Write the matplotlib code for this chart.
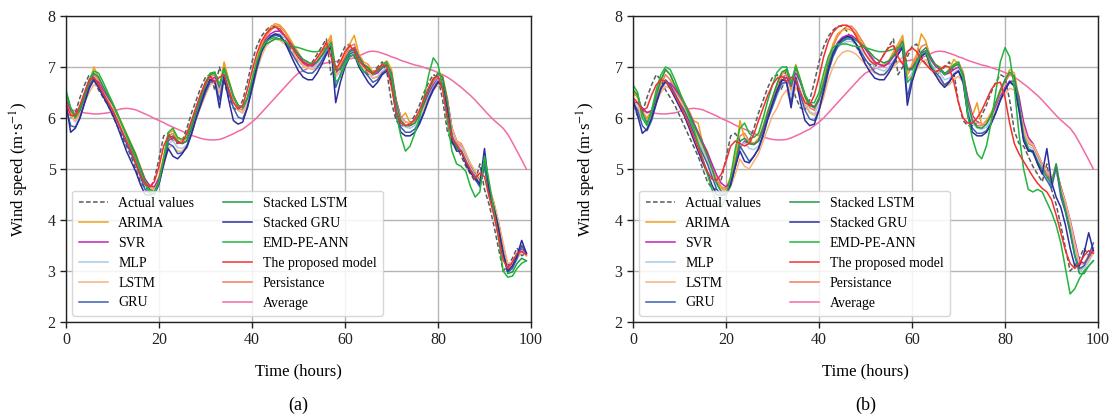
import matplotlib
matplotlib.use("Agg")
import matplotlib.pyplot as plt
import numpy as np

plt.rcParams['font.family'] = ['Liberation Serif', 'DejaVu Serif']
plt.rcParams['mathtext.fontset'] = 'stix'

hours = list(range(100))
x_ticks = [0, 20, 40, 60, 80, 100]
y_ticks = [2, 3, 4, 5, 6, 7, 8]

labels = ["Actual values", "ARIMA", "SVR", "MLP", "LSTM", "GRU",
          "Stacked LSTM", "Stacked GRU", "EMD-PE-ANN", "The proposed model",
          "Persistance", "Average"]
colors = ["#5a5a5a", "#f0a020", "#c024b4", "#a9c9e6", "#f9b27a", "#3a5fb2",
          "#1e9a4c", "#2c2c9c", "#22b43c", "#f23030", "#f47a58", "#f26aa6"]

actual = [
    6.4, 6.0, 6.1, 6.4, 6.65, 6.85, 6.75, 6.55, 6.4, 6.25,
    6.05, 5.85, 5.65, 5.45, 5.25, 5.0, 4.75, 4.62, 4.6, 4.8,
    5.2, 5.65, 5.7, 5.55, 5.5, 5.55, 5.8, 6.1, 6.35, 6.6,
    6.8, 6.85, 6.55, 7.0, 6.7, 6.4, 6.2, 6.15, 6.35, 6.7,
    7.1, 7.4, 7.6, 7.72, 7.8, 7.8, 7.7, 7.55, 7.4, 7.25,
    7.1, 7.05, 7.0, 7.1, 7.25, 7.4, 7.55, 6.85, 7.0, 7.2,
    7.4, 7.45, 7.2, 7.05, 7.0, 6.85, 6.9, 7.0, 7.1, 6.9,
    6.3, 5.95, 5.85, 5.85, 5.9, 6.05, 6.25, 6.5, 6.7, 6.85,
    6.8, 6.35, 5.75, 5.5, 5.45, 5.25, 5.05, 4.9, 4.75, 5.1,
    4.6, 4.3, 3.9, 3.45, 3.0, 3.1, 3.25, 3.45, 3.3, 3.35]

average = [
    6.19, 6.17, 6.14, 6.12, 6.1, 6.09, 6.08, 6.08, 6.09, 6.1,
    6.13, 6.16, 6.18, 6.19, 6.18, 6.16, 6.12, 6.08, 6.04, 5.99,
    5.95, 5.91, 5.86, 5.82, 5.78, 5.74, 5.7, 5.66, 5.63, 5.6,
    5.58, 5.57, 5.57, 5.58, 5.61, 5.65, 5.69, 5.74, 5.78, 5.85,
    5.92, 6.0, 6.1, 6.2, 6.3, 6.4, 6.5, 6.6, 6.7, 6.8,
    6.88, 6.93, 6.97, 7.0, 7.03, 7.06, 7.08, 7.1, 7.11, 7.12,
    7.14, 7.16, 7.18, 7.22, 7.26, 7.3, 7.31, 7.3, 7.27, 7.24,
    7.2, 7.17, 7.13, 7.1, 7.07, 7.04, 7.02, 6.99, 6.96, 6.93,
    6.89, 6.85, 6.8, 6.74, 6.67, 6.6, 6.52, 6.44, 6.35, 6.25,
    6.15, 6.05, 5.96, 5.88, 5.8, 5.68, 5.52, 5.35, 5.18, 5.0]

# ---------------- panel (a) ----------------
arima_a = [
    6.4, 6.1, 6.0, 6.15, 6.45, 6.7, 7.0, 6.8, 6.6, 6.45,
    6.3, 6.1, 5.9, 5.7, 5.5, 5.3, 5.05, 4.8, 4.65, 4.62,
    4.85, 5.25, 5.7, 5.75, 5.6, 5.55, 5.6, 5.85, 6.15, 6.4,
    6.65, 6.85, 6.9, 6.6, 7.1, 6.75, 6.45, 6.25, 6.2, 6.4,
    6.75, 7.15, 7.45, 7.65, 7.78, 7.85, 7.82, 7.72, 7.58, 7.42,
    7.28, 7.12, 7.08, 7.05, 7.12, 7.3, 7.45, 7.62, 6.9, 7.05,
    7.25, 7.45, 7.62, 7.25, 7.1, 7.05, 6.9, 6.95, 7.05, 7.12,
    6.95, 6.35, 6.0, 6.1, 5.9, 5.95, 6.1, 6.3, 6.55, 6.75,
    6.88, 6.82, 6.4, 5.8, 5.55, 5.5, 5.3, 5.1, 4.95, 4.8,
    5.15, 4.65, 4.35, 3.95, 3.5, 3.05, 3.15, 3.3, 3.5, 3.35]
svr_a = [
    6.35, 6.15, 6.05, 6.15, 6.4, 6.62, 6.78, 6.7, 6.55, 6.4,
    6.25, 6.05, 5.85, 5.65, 5.45, 5.25, 5.02, 4.8, 4.68, 4.65,
    4.82, 5.15, 5.55, 5.62, 5.52, 5.5, 5.55, 5.78, 6.05, 6.3,
    6.55, 6.75, 6.8, 6.6, 6.9, 6.7, 6.42, 6.25, 6.2, 6.38,
    6.7, 7.05, 7.35, 7.55, 7.65, 7.7, 7.7, 7.62, 7.5, 7.38,
    7.22, 7.1, 7.05, 7.02, 7.1, 7.22, 7.35, 7.45, 6.9, 6.98,
    7.15, 7.32, 7.38, 7.2, 7.05, 6.98, 6.85, 6.88, 6.98, 7.05,
    6.88, 6.35, 6.02, 5.92, 5.9, 5.93, 6.05, 6.25, 6.48, 6.65,
    6.78, 6.75, 6.35, 5.8, 5.55, 5.48, 5.28, 5.08, 4.92, 4.8,
    5.05, 4.62, 4.32, 3.95, 3.5, 3.1, 3.15, 3.28, 3.42, 3.35]
mlp_a = [
    6.3, 6.05, 5.92, 6.05, 6.32, 6.58, 6.75, 6.65, 6.5, 6.35,
    6.2, 6.0, 5.8, 5.6, 5.4, 5.2, 4.95, 4.7, 4.58, 4.55,
    4.72, 5.1, 5.5, 5.55, 5.42, 5.4, 5.48, 5.72, 6.02, 6.28,
    6.52, 6.72, 6.75, 6.5, 6.88, 6.6, 6.32, 6.15, 6.1, 6.3,
    6.62, 7.0, 7.3, 7.5, 7.6, 7.65, 7.65, 7.58, 7.45, 7.32,
    7.18, 7.05, 7.0, 6.98, 7.05, 7.18, 7.3, 7.42, 6.8, 6.92,
    7.1, 7.28, 7.32, 7.12, 7.0, 6.92, 6.78, 6.82, 6.92, 7.0,
    6.82, 6.25, 5.92, 5.82, 5.8, 5.85, 5.98, 6.18, 6.42, 6.6,
    6.75, 6.72, 6.3, 5.72, 5.48, 5.42, 5.22, 5.02, 4.88, 4.72,
    5.02, 4.55, 4.25, 3.88, 3.42, 3.02, 3.1, 3.22, 3.4, 3.3]
lstm_a = [
    6.25, 6.05, 5.95, 6.05, 6.3, 6.5, 6.65, 6.6, 6.48, 6.35,
    6.22, 6.02, 5.82, 5.62, 5.42, 5.22, 4.98, 4.75, 4.62, 4.6,
    4.72, 5.05, 5.42, 5.45, 5.35, 5.35, 5.45, 5.68, 5.98, 6.22,
    6.45, 6.65, 6.7, 6.5, 6.8, 6.58, 6.32, 6.15, 6.1, 6.25,
    6.55, 6.9, 7.2, 7.4, 7.5, 7.55, 7.52, 7.45, 7.35, 7.25,
    7.12, 7.02, 6.98, 6.95, 7.0, 7.12, 7.25, 7.35, 6.85, 6.9,
    7.05, 7.2, 7.25, 7.08, 6.98, 6.9, 6.78, 6.8, 6.88, 6.95,
    6.78, 6.3, 6.0, 5.92, 5.9, 5.92, 6.02, 6.2, 6.4, 6.55,
    6.65, 6.62, 6.3, 5.8, 5.55, 5.48, 5.3, 5.1, 4.95, 4.82,
    5.0, 4.62, 4.35, 3.98, 3.55, 3.15, 3.15, 3.25, 3.38, 3.3]
gru_a = [
    6.2, 5.85, 5.82, 6.0, 6.3, 6.6, 6.78, 6.65, 6.48, 6.3,
    6.15, 5.95, 5.72, 5.5, 5.3, 5.1, 4.85, 4.6, 4.52, 4.5,
    4.7, 5.1, 5.5, 5.45, 5.3, 5.32, 5.42, 5.68, 6.0, 6.25,
    6.5, 6.7, 6.72, 6.35, 6.85, 6.5, 6.2, 6.02, 5.98, 6.2,
    6.55, 6.95, 7.28, 7.48, 7.58, 7.62, 7.6, 7.5, 7.35, 7.2,
    7.05, 6.92, 6.88, 6.88, 6.98, 7.12, 7.28, 7.4, 6.6, 6.85,
    7.05, 7.25, 7.3, 7.05, 6.92, 6.82, 6.7, 6.75, 6.88, 6.95,
    6.75, 6.15, 5.82, 5.72, 5.72, 5.78, 5.92, 6.12, 6.38, 6.58,
    6.72, 6.68, 6.25, 5.65, 5.4, 5.35, 5.15, 4.95, 4.8, 4.65,
    5.05, 4.5, 4.2, 3.82, 3.35, 2.98, 3.05, 3.25, 3.5, 3.35]
slstm_a = [
    6.5, 6.2, 6.05, 6.15, 6.42, 6.7, 6.88, 6.8, 6.62, 6.45,
    6.28, 6.08, 5.88, 5.68, 5.48, 5.28, 5.02, 4.76, 4.6, 4.55,
    4.75, 5.15, 5.6, 5.65, 5.55, 5.5, 5.55, 5.82, 6.12, 6.38,
    6.65, 6.85, 6.88, 6.62, 6.98, 6.72, 6.42, 6.25, 6.2, 6.38,
    6.68, 7.05, 7.3, 7.45, 7.5, 7.55, 7.55, 7.5, 7.42, 7.35,
    7.25, 7.15, 7.1, 7.05, 7.1, 7.22, 7.35, 7.48, 6.95, 6.95,
    7.12, 7.3, 7.35, 7.18, 7.05, 6.98, 6.88, 6.92, 7.0, 7.05,
    6.85, 6.3, 5.95, 5.85, 5.85, 5.9, 6.05, 6.3, 6.55, 6.75,
    6.88, 6.8, 6.3, 5.65, 5.4, 5.35, 5.15, 4.98, 4.85, 4.7,
    5.15, 4.55, 4.25, 3.85, 3.35, 2.95, 2.98, 3.15, 3.25, 3.2]
sgru_a = [
    6.3, 5.72, 5.8, 6.0, 6.3, 6.58, 6.75, 6.6, 6.42, 6.25,
    6.08, 5.85, 5.6, 5.35, 5.15, 4.95, 4.7, 4.5, 4.48, 4.52,
    4.72, 5.1, 5.4, 5.25, 5.2, 5.3, 5.45, 5.7, 6.0, 6.28,
    6.55, 6.75, 6.72, 6.2, 6.8, 6.35, 5.95, 5.88, 5.92, 6.2,
    6.6, 7.0, 7.3, 7.5, 7.6, 7.65, 7.62, 7.5, 7.3, 7.1,
    6.92, 6.8, 6.75, 6.75, 6.88, 7.05, 7.25, 7.4, 6.3, 6.7,
    7.0, 7.2, 7.25, 7.0, 6.85, 6.7, 6.6, 6.7, 6.85, 6.92,
    6.7, 6.05, 5.72, 5.65, 5.65, 5.72, 5.88, 6.1, 6.35, 6.55,
    6.7, 6.62, 6.15, 5.55, 5.35, 5.35, 5.1, 4.92, 4.82, 4.7,
    5.4, 4.6, 4.25, 3.85, 3.35, 3.0, 3.1, 3.3, 3.6, 3.35]
emd_a = [
    6.55, 6.2, 6.0, 6.2, 6.5, 6.75, 6.92, 6.88, 6.7, 6.5,
    6.3, 6.1, 5.88, 5.65, 5.42, 5.2, 4.95, 4.7, 4.55, 4.5,
    4.75, 5.2, 5.72, 5.8, 5.62, 5.58, 5.62, 5.9, 6.2, 6.45,
    6.7, 6.88, 6.9, 6.65, 6.95, 6.7, 6.42, 6.25, 6.2, 6.4,
    6.75, 7.1, 7.35, 7.5, 7.55, 7.58, 7.55, 7.5, 7.45, 7.4,
    7.38, 7.35, 7.32, 7.3, 7.3, 7.32, 7.38, 7.45, 6.7, 6.8,
    7.05, 7.2, 7.25, 7.05, 6.9, 6.95, 6.85, 6.95, 7.05, 7.1,
    6.8, 6.1, 5.65, 5.35, 5.45, 5.7, 6.0, 6.4, 6.85, 7.18,
    7.05, 6.6, 5.95, 5.35, 5.1, 5.05, 4.95, 4.65, 4.45, 4.55,
    5.25, 4.75, 4.2, 3.65, 3.0, 2.88, 2.9, 3.05, 3.15, 3.2]
proposed_a = [
    6.3, 6.05, 6.05, 6.25, 6.5, 6.75, 6.8, 6.65, 6.48, 6.32,
    6.15, 5.95, 5.75, 5.55, 5.35, 5.12, 4.88, 4.7, 4.65, 4.75,
    5.05, 5.45, 5.65, 5.62, 5.52, 5.52, 5.7, 5.95, 6.22, 6.48,
    6.7, 6.82, 6.7, 6.8, 6.85, 6.55, 6.3, 6.18, 6.25, 6.55,
    6.92, 7.25, 7.5, 7.65, 7.75, 7.78, 7.75, 7.62, 7.48, 7.32,
    7.18, 7.08, 7.02, 7.05, 7.18, 7.32, 7.48, 7.2, 6.95, 7.1,
    7.3, 7.42, 7.32, 7.12, 7.02, 6.92, 6.88, 6.95, 7.05, 7.0,
    6.6, 6.12, 5.9, 5.85, 5.88, 5.98, 6.15, 6.38, 6.6, 6.78,
    6.82, 6.55, 6.05, 5.62, 5.48, 5.35, 5.15, 4.98, 4.82, 4.92,
    4.85, 4.45, 4.1, 3.68, 3.22, 3.05, 3.18, 3.35, 3.38, 3.32]
persist_a = [
    6.45, 6.15, 5.98, 6.1, 6.4, 6.65, 6.85, 6.75, 6.55, 6.4,
    6.25, 6.05, 5.85, 5.65, 5.45, 5.25, 5.0, 4.75, 4.62, 4.6,
    4.8, 5.2, 5.65, 5.7, 5.55, 5.5, 5.55, 5.8, 6.1, 6.35,
    6.6, 6.8, 6.85, 6.55, 7.0, 6.7, 6.4, 6.2, 6.15, 6.35,
    6.7, 7.1, 7.4, 7.6, 7.72, 7.8, 7.8, 7.7, 7.55, 7.4,
    7.25, 7.1, 7.05, 7.0, 7.1, 7.25, 7.4, 7.55, 6.85, 7.0,
    7.2, 7.4, 7.45, 7.2, 7.05, 7.0, 6.85, 6.9, 7.0, 7.1,
    6.9, 6.3, 5.95, 5.85, 5.85, 5.9, 6.05, 6.25, 6.5, 6.7,
    6.85, 6.8, 6.35, 5.75, 5.5, 5.45, 5.25, 5.05, 4.9, 4.75,
    5.1, 4.6, 4.3, 3.9, 3.45, 3.0, 3.1, 3.25, 3.45, 3.3]

# ---------------- panel (b) ----------------
arima_b = [
    6.5, 6.4, 6.1, 6.0, 6.15, 6.45, 6.7, 6.95, 6.85, 6.6,
    6.45, 6.3, 6.15, 5.95, 5.9, 5.5, 5.35, 5.05, 4.8, 4.65,
    4.62, 4.85, 5.25, 5.95, 5.6, 5.55, 5.5, 5.6, 5.85, 6.15,
    6.4, 6.65, 6.85, 6.95, 6.55, 7.05, 6.75, 6.45, 6.25, 6.2,
    6.4, 6.75, 7.15, 7.45, 7.65, 7.72, 7.75, 7.72, 7.65, 7.5,
    7.35, 7.2, 7.08, 7.05, 7.05, 7.12, 7.3, 7.45, 7.62, 6.85,
    7.05, 7.25, 7.65, 7.5, 7.15, 7.05, 7.0, 6.85, 6.95, 7.15,
    7.05, 6.9, 6.35, 6.05, 6.3, 5.85, 5.95, 6.1, 6.3, 6.55,
    6.75, 6.95, 6.88, 6.4, 5.8, 5.55, 5.5, 5.3, 5.1, 4.95,
    4.8, 5.0, 4.65, 4.35, 3.95, 3.5, 3.15, 3.15, 3.3, 3.45]
svr_b = [
    6.3, 6.3, 6.2, 6.1, 6.15, 6.35, 6.55, 6.7, 6.68, 6.58,
    6.45, 6.3, 6.12, 5.92, 5.72, 5.52, 5.32, 5.1, 4.88, 4.72,
    4.65, 4.75, 5.05, 5.42, 5.55, 5.5, 5.48, 5.55, 5.75, 6.02,
    6.28, 6.52, 6.72, 6.8, 6.62, 6.88, 6.7, 6.45, 6.28, 6.22,
    6.35, 6.65, 7.0, 7.28, 7.48, 7.58, 7.62, 7.62, 7.55, 7.45,
    7.35, 7.22, 7.1, 7.05, 7.02, 7.08, 7.2, 7.32, 7.42, 6.95,
    6.98, 7.12, 7.28, 7.32, 7.15, 7.02, 6.95, 6.85, 6.88, 6.95,
    7.0, 6.85, 6.4, 6.05, 5.92, 5.88, 5.9, 6.02, 6.2, 6.42,
    6.6, 6.72, 6.72, 6.42, 5.92, 5.62, 5.5, 5.3, 5.1, 4.95,
    4.82, 4.95, 4.65, 4.35, 4.0, 3.6, 3.2, 3.15, 3.25, 3.4]
mlp_b = [
    6.3, 6.25, 6.0, 5.9, 6.0, 6.3, 6.55, 6.72, 6.62, 6.48,
    6.32, 6.18, 5.98, 5.78, 5.58, 5.38, 5.18, 4.95, 4.7, 4.58,
    4.55, 4.7, 5.05, 5.45, 5.52, 5.4, 5.38, 5.45, 5.68, 5.98,
    6.22, 6.45, 6.65, 6.7, 6.45, 6.82, 6.55, 6.28, 6.12, 6.08,
    6.25, 6.55, 6.92, 7.2, 7.38, 7.45, 7.5, 7.5, 7.45, 7.35,
    7.25, 7.12, 7.0, 6.95, 6.92, 7.0, 7.12, 7.25, 7.38, 6.75,
    6.88, 7.05, 7.22, 7.28, 7.08, 6.95, 6.88, 6.75, 6.78, 6.88,
    6.95, 6.78, 6.22, 5.9, 5.8, 5.78, 5.82, 5.95, 6.15, 6.38,
    6.55, 6.7, 6.68, 6.28, 5.7, 5.45, 5.4, 5.2, 5.0, 4.85,
    4.7, 5.0, 4.52, 4.22, 3.85, 3.4, 3.0, 3.05, 3.18, 3.35]
lstm_b = [
    6.25, 6.2, 6.0, 5.95, 6.05, 6.3, 6.5, 6.62, 6.58, 6.45,
    6.32, 6.2, 6.0, 5.82, 5.62, 5.42, 5.22, 4.98, 4.72, 4.6,
    4.55, 4.65, 4.9, 5.2, 5.05, 5.0, 5.15, 5.3, 5.55, 5.8,
    6.05, 6.2, 6.42, 6.55, 6.3, 6.6, 6.45, 6.25, 6.1, 6.05,
    6.15, 6.4, 6.75, 7.0, 7.18, 7.28, 7.32, 7.3, 7.25, 7.15,
    7.05, 6.95, 6.88, 6.85, 6.85, 6.9, 7.0, 7.1, 7.2, 6.8,
    6.8, 6.95, 7.1, 7.15, 6.95, 6.85, 6.75, 6.62, 6.65, 6.75,
    6.82, 6.7, 6.3, 6.0, 5.9, 5.88, 5.9, 6.0, 6.15, 6.35,
    6.48, 6.58, 6.55, 6.25, 5.8, 5.55, 5.48, 5.3, 5.1, 4.95,
    4.82, 4.95, 4.62, 4.35, 3.98, 3.55, 3.15, 3.12, 3.22, 3.35]
gru_b = [
    6.3, 6.15, 5.85, 5.75, 5.95, 6.28, 6.58, 6.75, 6.65, 6.48,
    6.3, 6.15, 5.95, 5.72, 5.5, 5.3, 5.1, 4.85, 4.6, 4.5,
    4.48, 4.68, 5.05, 5.45, 5.3, 5.15, 5.25, 5.4, 5.65, 5.98,
    6.22, 6.48, 6.68, 6.7, 6.3, 6.8, 6.45, 6.15, 5.98, 5.95,
    6.15, 6.5, 6.9, 7.2, 7.4, 7.5, 7.55, 7.55, 7.45, 7.3,
    7.15, 7.02, 6.9, 6.85, 6.85, 6.95, 7.1, 7.25, 7.38, 6.4,
    6.8, 7.0, 7.2, 7.28, 7.0, 6.9, 6.8, 6.65, 6.72, 6.85,
    6.92, 6.72, 6.1, 5.8, 5.7, 5.7, 5.75, 5.9, 6.1, 6.35,
    6.55, 6.7, 6.65, 6.22, 5.6, 5.38, 5.32, 5.12, 4.92, 4.78,
    4.62, 5.05, 4.45, 4.15, 3.75, 3.3, 3.05, 3.1, 3.3, 3.55]
slstm_b = [
    6.55, 6.45, 6.1, 5.9, 6.1, 6.45, 6.75, 6.95, 6.85, 6.65,
    6.48, 6.3, 6.1, 5.88, 5.68, 5.48, 5.25, 5.0, 4.72, 4.55,
    4.5, 4.7, 5.1, 5.55, 5.6, 5.5, 5.48, 5.55, 5.82, 6.12,
    6.4, 6.68, 6.9, 6.95, 6.65, 7.0, 6.72, 6.42, 6.25, 6.2,
    6.38, 6.68, 7.05, 7.3, 7.45, 7.52, 7.58, 7.58, 7.52, 7.45,
    7.38, 7.28, 7.18, 7.12, 7.08, 7.12, 7.22, 7.35, 7.5, 6.95,
    6.95, 7.12, 7.3, 7.38, 7.2, 7.05, 6.98, 6.88, 6.92, 7.02,
    7.05, 6.85, 6.3, 5.95, 5.82, 5.8, 5.88, 6.05, 6.3, 6.55,
    6.75, 6.9, 6.82, 6.3, 5.65, 5.4, 5.35, 5.15, 4.98, 4.85,
    4.7, 5.1, 4.55, 4.2, 3.8, 3.3, 2.95, 2.95, 3.1, 3.2]
sgru_b = [
    6.35, 6.05, 5.7, 5.78, 6.0, 6.3, 6.58, 6.72, 6.58, 6.4,
    6.22, 6.05, 5.82, 5.58, 5.35, 5.12, 4.92, 4.68, 4.5, 4.48,
    4.52, 4.7, 5.05, 5.35, 5.15, 5.12, 5.25, 5.4, 5.68, 6.0,
    6.28, 6.55, 6.75, 6.72, 6.2, 6.78, 6.32, 5.95, 5.85, 5.88,
    6.15, 6.55, 6.95, 7.25, 7.45, 7.55, 7.6, 7.58, 7.45, 7.25,
    7.05, 6.9, 6.78, 6.75, 6.75, 6.88, 7.05, 7.25, 7.4, 6.25,
    6.7, 7.0, 7.22, 7.28, 7.0, 6.85, 6.7, 6.6, 6.7, 6.85,
    6.92, 6.7, 6.05, 5.72, 5.65, 5.65, 5.72, 5.88, 6.1, 6.35,
    6.55, 6.72, 6.62, 6.15, 5.55, 5.35, 5.35, 5.1, 4.9, 5.4,
    4.75, 4.45, 4.25, 3.9, 3.45, 3.1, 3.1, 3.35, 3.75, 3.4]
emd_b = [
    6.65, 6.5, 6.0, 5.85, 6.15, 6.55, 6.85, 7.0, 6.95, 6.75,
    6.52, 6.3, 6.05, 5.8, 5.5, 5.2, 4.9, 4.6, 4.3, 4.25,
    4.45, 4.85, 5.4, 5.8, 5.9, 5.7, 5.62, 5.7, 6.0, 6.35,
    6.65, 6.9, 7.0, 7.0, 6.7, 7.02, 6.75, 6.45, 6.3, 6.3,
    6.5, 6.88, 7.2, 7.38, 7.45, 7.45, 7.45, 7.42, 7.4, 7.4,
    7.38, 7.35, 7.32, 7.3, 7.3, 7.32, 7.35, 7.38, 7.42, 6.7,
    6.8, 7.1, 7.25, 7.3, 7.05, 6.9, 6.95, 6.85, 6.95, 7.05,
    7.1, 6.78, 6.05, 5.6, 5.3, 5.2, 5.45, 5.9, 6.5, 7.1,
    7.38, 7.2, 6.6, 5.7, 5.0, 4.6, 4.55, 4.6, 4.55, 4.35,
    4.15, 3.9, 3.55, 3.05, 2.55, 2.65, 2.85, 3.0, 3.1, 3.2]
proposed_b = [
    6.4, 6.3, 6.15, 6.2, 6.45, 6.65, 6.75, 6.72, 6.6, 6.45,
    6.28, 6.08, 5.88, 5.65, 5.42, 5.18, 4.95, 4.8, 4.78, 4.9,
    5.15, 5.45, 5.55, 5.5, 5.45, 5.5, 5.68, 5.95, 6.2, 6.45,
    6.65, 6.78, 6.82, 6.72, 6.8, 6.75, 6.5, 6.3, 6.25, 6.45,
    6.8, 7.2, 7.5, 7.68, 7.78, 7.82, 7.82, 7.75, 7.6, 7.42,
    7.25, 7.12, 7.05, 7.1, 7.25, 7.38, 7.42, 7.2, 7.05, 7.3,
    7.38, 7.3, 7.15, 7.05, 6.95, 6.9, 6.95, 7.02, 7.0, 6.7,
    6.3, 6.0, 5.9, 5.9, 6.0, 6.15, 6.35, 6.55, 6.68, 6.7,
    6.4, 5.9, 5.5, 5.3, 5.15, 5.0, 4.85, 4.72, 4.62, 4.55,
    4.4, 4.1, 3.75, 3.4, 3.15, 3.05, 3.15, 3.3, 3.4, 3.35]
persist_b = [
    6.45, 6.45, 6.15, 5.98, 6.1, 6.4, 6.65, 6.85, 6.75, 6.55,
    6.4, 6.25, 6.05, 5.85, 5.65, 5.45, 5.25, 5.0, 4.75, 4.62,
    4.6, 4.8, 5.2, 5.65, 5.7, 5.55, 5.5, 5.55, 5.8, 6.1,
    6.35, 6.6, 6.8, 6.85, 6.55, 7.0, 6.7, 6.4, 6.2, 6.15,
    6.35, 6.7, 7.1, 7.4, 7.6, 7.72, 7.8, 7.8, 7.7, 7.55,
    7.4, 7.25, 7.1, 7.05, 7.0, 7.1, 7.25, 7.4, 7.55, 6.85,
    7.0, 7.2, 7.4, 7.45, 7.2, 7.05, 7.0, 6.85, 6.9, 7.0,
    7.1, 6.9, 6.3, 5.95, 5.85, 5.85, 5.9, 6.05, 6.25, 6.5,
    6.7, 6.85, 6.8, 6.35, 5.75, 5.5, 5.45, 5.25, 5.05, 4.9,
    4.75, 5.1, 4.6, 4.3, 3.9, 3.45, 3.0, 3.1, 3.25, 3.45]

panel_a = [actual, arima_a, svr_a, mlp_a, lstm_a, gru_a, slstm_a, sgru_a,
           emd_a, proposed_a, persist_a, average]
panel_b = [actual, arima_b, svr_b, mlp_b, lstm_b, gru_b, slstm_b, sgru_b,
           emd_b, proposed_b, persist_b, average]

W, H = 1112, 417
fig = plt.figure(figsize=(W / 100, H / 100), dpi=100)
axes_px = [(66, 16, 465, 306), (633, 16, 465, 306)]
panel_names = ["(a)", "(b)"]

draw_order = [11, 10, 0, 1, 2, 3, 4, 5, 6, 7, 8, 9]
for (x0, y0, w, h), series, name in zip(axes_px, [panel_a, panel_b], panel_names):
    ax = fig.add_axes([x0 / W, 1 - (y0 + h) / H, w / W, h / H])
    handles = [None] * len(labels)
    for z, i in enumerate(draw_order):
        ls = (0, (3, 1.6)) if i == 0 else '-'
        ln, = ax.plot(hours, series[i], color=colors[i], lw=1.1, ls=ls,
                      zorder=2 + z * 0.01, label=labels[i])
        handles[i] = ln
    ax.set_xlim(0, 100)
    ax.set_ylim(2, 8)
    ax.set_xticks(x_ticks)
    ax.set_yticks(y_ticks)
    ax.grid(True, color='#b4b4b4', lw=1.0)
    ax.set_axisbelow(True)
    for sp in ax.spines.values():
        sp.set_color('#222222')
        sp.set_linewidth(1.0)
    ax.tick_params(direction='out', length=4, width=1, labelsize=11.5,
                   colors='#222222', top=False, right=False)
    ax.set_xlabel("Time (hours)", fontsize=12, labelpad=11)
    ax.set_ylabel("Wind speed (m·s$^{-1}$)", fontsize=12, labelpad=12)
    leg = ax.legend(handles=handles, labels=labels, ncol=2, loc='lower left',
                    fontsize=10, frameon=True, framealpha=0.85,
                    edgecolor='#d0d0d0', fancybox=True, handlelength=2.1,
                    columnspacing=2.1, labelspacing=0.5, borderaxespad=0.45,
                    handletextpad=0.75, borderpad=0.45)
    leg.set_zorder(5)
    fig.text((x0 + w / 2) / W, 1 - 405 / H, name, ha='center', va='center',
             fontsize=13)

fig.savefig("out.png", dpi=100, facecolor='white')
